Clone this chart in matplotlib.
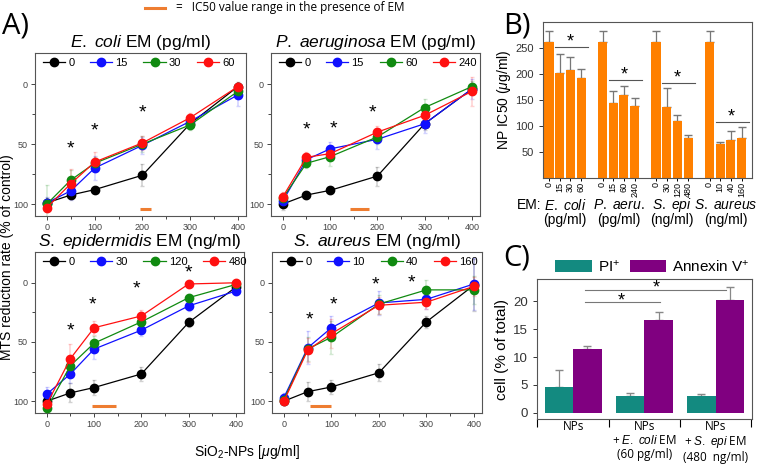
import matplotlib.pyplot as plt
import matplotlib.transforms as mtransforms
import numpy as np

plt.rcParams['font.family'] = ['Liberation Sans', 'DejaVu Sans']
plt.rcParams['mathtext.fontset'] = 'custom'
plt.rcParams['mathtext.rm'] = 'Liberation Sans'
plt.rcParams['mathtext.it'] = 'Liberation Sans:italic'

# ---- Panel A data: MTS reduction rate vs NP concentration ----
np_conc = [0, 50, 100, 200, 300, 400]
series_colors = ['black', '#1010ff', '#108a10', '#ff1010']

ecoli_em = ['0', '15', '30', '60']
ecoli_mts = [[99, 92.5, 88, 76, 33, 2],
             [99, 89, 70, 51, 31, 9],
             [100, 80, 66, 50, 34, 6],
             [103, 83, 65, 49, 28, 2]]
ecoli_err = [[4, 3, 3, 9, 4, 4], [5, 8, 10, 7, 5, 9],
             [16, 8, 5, 7, 4, 5], [4, 12, 8, 6, 4, 4]]
ecoli_star_x = [50, 100, 200]
ecoli_star_y = [54, 39, 24]
ecoli_ic50 = [195, 218]

paeru_em = ['0', '15', '60', '240']
paeru_mts = [[100, 92.5, 88.6, 76.7, 33, 4],
             [97.5, 63, 54, 46, 33, 4],
             [95, 66, 60.5, 44, 19.5, 2],
             [94, 61, 58, 40, 26, 6]]
paeru_err = [[5, 3, 3, 8, 5, 5], [4, 5, 6, 8, 8, 8],
             [4, 4, 8, 6, 7, 5], [4, 4, 4, 5, 6, 12]]
paeru_star_x = [50, 107, 190]
paeru_star_y = [38, 37, 24]
paeru_ic50 = [142, 182]

sepi_em = ['0', '30', '120', '480']
sepi_mts = [[100, 93, 88.5, 77, 33.5, 3.6],
            [94, 77, 56, 40, 19.5, 7],
            [106, 70, 51, 33, 12.6, 1.4],
            [102.5, 64, 38, 28, 1, 0]]
sepi_err = [[5, 8, 6, 6, 4, 3], [6, 8, 8, 5, 4, 3],
            [4, 6, 6, 5, 3, 3], [4, 12, 6, 5, 3, 3]]
sepi_star_x = [50, 96, 190, 300]
sepi_star_y = [40.5, 19, 5, -8]
sepi_ic50 = [95, 146]

saureus_em = ['0', '10', '40', '160']
saureus_mts = [[100, 92, 88, 76, 33, 2],
               [97, 55, 38, 17, 14, 1],
               [98.6, 56, 46, 18, 6, 6],
               [100, 57, 43, 19, 16.4, 3]]
saureus_err = [[3, 8, 6, 7, 5, 22], [4, 14, 10, 10, 8, 22],
               [3, 10, 14, 8, 8, 12], [3, 10, 12, 7, 6, 8]]
saureus_star_x = [53, 104, 192, 268]
saureus_star_y = [31, 18.6, 2, 0]
saureus_ic50 = [55, 99]

# ---- Panel B data: NP IC50 ----
b_groups = ['E. coli', 'P. aeru.', 'S. epi', 'S. aureus']
b_units = ['(pg/ml)', '(pg/ml)', '(ng/ml)', '(ng/ml)']
b_em = [['0', '15', '30', '60'], ['0', '15', '60', '240'],
        ['0', '30', '120', '480'], ['0', '10', '40', '160']]
b_ic50 = [[262, 201, 207, 193], [262, 144, 160, 139],
          [262, 137, 110, 77], [262, 65, 74, 76]]
b_err = [[20, 38, 26, 17], [20, 24, 16, 15],
         [20, 37, 11, 5], [20, 5, 17, 22]]
b_sig = [252, 189, 183, 108]

# ---- Panel C data: flow cytometry ----
c_labels = ['NPs', 'NPs\n+ $\\mathit{E.\\ coli}$ EM\n(60 pg/ml)',
            'NPs\n+ $\\mathit{S.\\ epi}$ EM\n(480  ng/ml)']
c_pi = [4.6, 3.0, 3.0]
c_pi_err = [3.0, 0.5, 0.3]
c_annexin = [11.5, 16.6, 20.2]
c_annexin_err = [0.4, 1.5, 2.4]
c_sig_y = [19.8, 22.0]
c_sig_x = [[0.16, 1.22], [0.16, 2.14]]
c_star_x = [0.67, 1.16]

W, H = 760, 465
fig = plt.figure(figsize=(7.6, 4.65), dpi=100)


def box(l, t, r, b):
    return [l / W, (H - b) / H, (r - l) / W, (b - t) / H]


def panel_a(rect, title, em, mts, err, star_x, star_y, ic50):
    ax = fig.add_axes(rect)
    for i in range(4):
        c = series_colors[i]
        ax.errorbar(np_conc, mts[i], yerr=err[i], fmt='none', ecolor=c,
                    alpha=0.18, elinewidth=1.2, capsize=1.5, zorder=1)
        ax.plot(np_conc, mts[i], '-o', color=c, lw=0.9, ms=6,
                mec=c, mfc=c, label=em[i], zorder=3 + i)
    for sx, sy in zip(star_x, star_y):
        ax.text(sx, sy, '*', ha='center', va='center', fontsize=14)
    ax.plot(ic50, [104, 104], color='#ee7d31', lw=2.2, solid_capstyle='butt')
    ax.set_xlim(-25, 417)
    ax.set_ylim(110, -26)
    ax.set_xticks([0, 100, 200, 300, 400])
    ax.set_xticks([50, 150, 250, 350], minor=True)
    ax.set_yticks([0, 50, 100])
    ax.set_yticks([25, 75], minor=True)
    ax.tick_params(labelsize=6.5, colors='#444', length=3, width=0.7, pad=2)
    ax.tick_params(which='minor', length=2, width=0.7, colors='#444')
    for s in ax.spines.values():
        s.set_color('#555')
        s.set_linewidth(0.8)
    ax.set_title(title, fontsize=12.5, pad=4)
    ax.legend(ncol=4, loc='upper left', bbox_to_anchor=(0.0, 1.02),
              frameon=False, fontsize=8, handlelength=2.0,
              handletextpad=0.3, columnspacing=1.4, borderaxespad=0.3)
    return ax


panel_a(box(35, 53, 246, 216), r'$\mathit{E.\ coli}$ EM (pg/ml)',
        ecoli_em, ecoli_mts, ecoli_err, ecoli_star_x, ecoli_star_y, ecoli_ic50)
panel_a(box(271, 53, 480, 216), r'$\mathit{P.\ aeruginosa}$ EM (pg/ml)',
        paeru_em, paeru_mts, paeru_err, paeru_star_x, paeru_star_y, paeru_ic50)
panel_a(box(35, 252, 244, 413), r'$\mathit{S.\ epidermidis}$ EM (ng/ml)',
        sepi_em, sepi_mts, sepi_err, sepi_star_x, sepi_star_y, sepi_ic50)
panel_a(box(272, 252, 482, 413), r'$\mathit{S.\ aureus}$ EM (ng/ml)',
        saureus_em, saureus_mts, saureus_err, saureus_star_x, saureus_star_y,
        saureus_ic50)

fig.text(7 / W, 1 - 257 / H, 'MTS reduction rate (% of control)',
         rotation=90, ha='center', va='center', fontsize=10)
fig.text(247 / W, 1 - 452 / H, r'SiO$_2$-NPs [$\mu$g/ml]',
         ha='center', va='center', fontsize=10)

# panel letters and top legend
fig.text(2 / W, 1 - 26 / H, 'A)', fontsize=21, family='Open Sans',
         va='center')
fig.text(503 / W, 1 - 26 / H, 'B)', fontsize=21, family='Open Sans',
         va='center')
fig.text(503 / W, 1 - 258 / H, 'C)', fontsize=21, family='Open Sans',
         va='center')
fig.add_artist(plt.Line2D([145 / W, 165 / W], [1 - 8 / H, 1 - 8 / H],
                          color='#ee7d31', lw=2.2))
fig.text(176 / W, 1 - 8 / H, '=   IC50 value range in the presence of EM',
         fontsize=8.5, family='Open Sans', va='center')

# ---- Panel B ----
axb = fig.add_axes(box(543, 22, 752, 178))
xpos = []
labels = []
for g in range(4):
    x = [g * 5 + i for i in range(4)]
    xpos += x
    labels += b_em[g]
    axb.bar(x, b_ic50[g], width=0.85, color='#ff8000', zorder=2)
    axb.errorbar(x, b_ic50[g], yerr=[np.zeros(4), b_err[g]], fmt='none',
                 ecolor='#777', elinewidth=0.9, capsize=3, zorder=1)
    axb.plot([g * 5 + 0.6, g * 5 + 3.65], [b_sig[g], b_sig[g]],
             color='#555', lw=0.8)
    axb.text(g * 5 + 2, b_sig[g] + 10, '*', ha='center', va='center',
             fontsize=13)
axb.set_xlim(-0.56, 18.97)
axb.set_ylim(0, 300)
axb.set_yticks([50, 100, 150, 200, 250])
axb.set_xticks(xpos)
axb.set_xticklabels(labels, rotation=90, fontsize=6.5)
axb.tick_params(axis='y', labelsize=8, colors='#333', length=3, width=0.7)
axb.tick_params(axis='x', length=2, width=0.7, pad=1)
for s in axb.spines.values():
    s.set_color('#555')
    s.set_linewidth(0.8)
axb.set_ylabel(r'NP IC50 ($\mu$g/ml)', fontsize=10, labelpad=2)
tb = mtransforms.blended_transform_factory(axb.transData, axb.transAxes)
axb.text(-0.73, -0.175, 'EM:', transform=tb, ha='right', va='center',
         fontsize=10)
for g in range(4):
    axb.text(g * 5 + 1.5, -0.175, '$\\mathit{' + b_groups[g].replace(' ', '\\ ')
             + '}$', transform=tb, ha='center', va='center', fontsize=10)
    axb.text(g * 5 + 1.5, -0.27, b_units[g], transform=tb, ha='center',
             va='center', fontsize=10)

# ---- Panel C ----
axc = fig.add_axes(box(537, 279, 752, 419))
cx = np.arange(3)
axc.bar(cx - 0.2, c_pi, width=0.4, color='#138a80', zorder=2, label='PI$^{+}$')
axc.bar(cx + 0.2, c_annexin, width=0.4, color='#800080', zorder=2,
        label='Annexin V$^{+}$')
axc.errorbar(cx - 0.2, c_pi, yerr=[np.zeros(3), c_pi_err], fmt='none',
             ecolor='#888', elinewidth=0.9, capsize=3, zorder=1)
axc.errorbar(cx + 0.2, c_annexin, yerr=[np.zeros(3), c_annexin_err],
             fmt='none', ecolor='#888', elinewidth=0.9, capsize=3, zorder=1)
for (x0, x1), y, sx in zip(c_sig_x, c_sig_y, c_star_x):
    axc.plot([x0, x1], [y, y], color='#777', lw=0.8)
    axc.text(sx, y + 0.3, '*', ha='center', va='center', fontsize=13)
axc.set_xlim(-0.507, 2.51)
axc.set_ylim(-1.1, 24)
axc.set_yticks([0, 5, 10, 15, 20])
axc.set_xticks([-0.5, 0.5, 1.5, 2.5])
axc.set_xticklabels([])
axc.tick_params(axis='x', length=6, width=0.8, direction='out')
axc.set_xticks(cx, minor=True)
axc.set_xticklabels(c_labels, minor=True, family='Open Sans', fontsize=8.5,
                    va='top', linespacing=1.1)
axc.tick_params(axis='x', which='minor', length=0, pad=1)
axc.tick_params(axis='y', labelsize=9.5, colors='#333', length=3, width=0.7)
for s in axc.spines.values():
    s.set_color('#555')
    s.set_linewidth(0.8)
axc.set_ylabel('cell (% of total)', fontsize=11, labelpad=3)
axc.legend(ncol=2, loc='lower left', bbox_to_anchor=(0.05, 0.98),
           frameon=False, fontsize=11, handlelength=2.4, handleheight=0.8,
           handletextpad=0.4, columnspacing=0.6, borderaxespad=0.1)

fig.savefig('out.png', dpi=100)
